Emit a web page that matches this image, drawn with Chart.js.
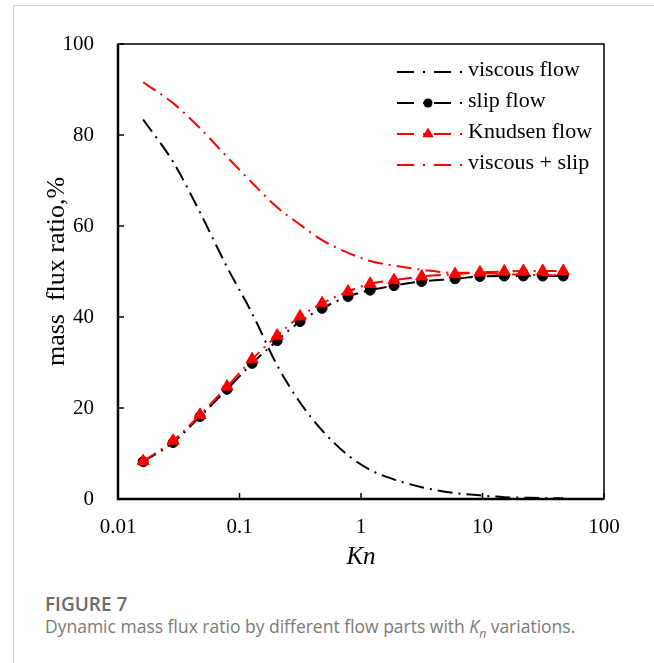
<!DOCTYPE html>
<html>
<head>
<meta charset="utf-8">
<script src="https://cdn.jsdelivr.net/npm/chart.js@4.4.0/dist/chart.umd.min.js"></script>
<style>
  html, body { margin: 0; padding: 0; background: #fff; }
  body { width: 654px; height: 663px; position: relative; overflow: hidden; }
  #card { position: absolute; left: 13px; top: 5px; width: 700px; height: 700px;
          border-left: 1px solid #d2d2d2; border-top: 1px solid #d2d2d2; }
  #wrap { position: absolute; left: 0; top: 0; width: 654px; height: 580px; }
  .fig { position: absolute; left: 45px; top: 593px; font-family: 'Open Sans'; font-weight: 600;
         font-size: 19px; line-height: 1.2; color: #6b6b6b; white-space: nowrap; }
  .cap { position: absolute; left: 45px; top: 616px; font-family: 'Open Sans'; font-size: 17.5px;
         line-height: 1.2; color: #7a7a7a; white-space: nowrap; }
</style>
</head>
<body>
<div id="card"></div>
<div id="wrap"><canvas id="fluxChart"></canvas></div>
<div class="fig">FIGURE 7</div>
<div class="cap">Dynamic mass flux ratio by different flow parts with <i>K<sub style="font-size:12px">n</sub></i> variations.</div>
<script>
// === DATA ===
const knValues    = [0.0161, 0.0284, 0.0473, 0.0789, 0.127, 0.204, 0.315, 0.478, 0.782, 1.19, 1.87, 3.16, 5.94, 9.53, 15.1, 21.7, 31.3, 46.2];
const viscousFlow = [83.4, 74.1, 63.0, 51.0, 40.8, 29.4, 21.2, 15.1, 9.6, 6.4, 4.3, 2.6, 1.3, 0.8, 0.4, 0.3, 0.2, 0.15];
const slipFlow    = [8.2, 12.4, 18.1, 24.1, 29.8, 34.8, 39.0, 41.9, 44.5, 45.9, 46.9, 47.8, 48.4, 48.9, 49.0, 49.0, 49.0, 49.0];
const knudsenFlow = [8.3, 12.8, 18.5, 24.7, 30.7, 35.9, 40.1, 43.0, 45.6, 47.3, 48.1, 48.9, 49.4, 49.8, 50.0, 50.1, 50.1, 50.1];
const viscousSlip = [91.6, 87.0, 81.5, 75.2, 69.5, 64.1, 60.3, 56.9, 54.1, 52.3, 51.3, 50.4, 49.7, 49.7, 49.4, 49.3, 49.2, 49.2];
const seriesNames = ['viscous flow', 'slip flow', 'Knudsen flow', 'viscous + slip'];
const xTicks = [0.01, 0.1, 1, 10, 100];
const yTicks = [0, 20, 40, 60, 80, 100];

const SERIF = "'Liberation Serif', 'Times New Roman', serif";
const DASH_DOT = [15, 6, 2, 6];

function toPoints(arr) {
    return arr.map((v, i) => ({ x: knValues[i], y: v }));
}

function series(label, values, color, marker, order) {
    return {
        label: label,
        data: toPoints(values),
        borderColor: color,
        backgroundColor: color,
        borderWidth: 2,
        borderDash: DASH_DOT,
        cubicInterpolationMode: 'monotone',
        pointStyle: marker || 'circle',
        pointRadius: marker === 'triangle' ? 7 : (marker ? 5 : 0),
        pointBackgroundColor: color,
        pointBorderColor: color,
        pointBorderWidth: 1,
        order: order
    };
}

// === frame, inner ticks and legend inside the plot ===
function drawMarker(ctx, style, cx, cy, r, color) {
    ctx.fillStyle = color;
    ctx.beginPath();
    if (style === 'triangle') {
        ctx.moveTo(cx, cy - r);
        ctx.lineTo(cx + r * 0.866, cy + r * 0.5);
        ctx.lineTo(cx - r * 0.866, cy + r * 0.5);
        ctx.closePath();
    } else {
        ctx.arc(cx, cy, r, 0, Math.PI * 2);
    }
    ctx.fill();
}

const framePlugin = {
    id: 'framePlugin',
    afterDatasetsDraw(chart) {
        const { ctx, chartArea: a, scales: { x, y } } = chart;
        ctx.save();
        ctx.strokeStyle = '#000';
        ctx.setLineDash([]);

        ctx.lineWidth = 1.5;
        yTicks.forEach(v => {
            const py = y.getPixelForValue(v);
            ctx.beginPath(); ctx.moveTo(a.left, py); ctx.lineTo(a.left + 6, py); ctx.stroke();
        });
        xTicks.forEach(v => {
            const px = x.getPixelForValue(v);
            ctx.beginPath(); ctx.moveTo(px, a.bottom); ctx.lineTo(px, a.bottom - 6); ctx.stroke();
        });

        ctx.lineWidth = 1.5;
        ctx.strokeRect(a.left, a.top, a.right - a.left, a.bottom - a.top);
        ctx.lineWidth = 2.5;
        ctx.beginPath();
        ctx.moveTo(a.left, a.top);
        ctx.lineTo(a.left, a.bottom);
        ctx.lineTo(a.right, a.bottom);
        ctx.stroke();

        // legend
        const x0 = a.right - 207, x1 = a.right - 141, tx = a.right - 136;
        ctx.font = '22px ' + SERIF;
        ctx.textBaseline = 'middle';
        ctx.textAlign = 'left';
        chart.data.datasets.forEach((ds, i) => {
            const ry = a.top + 28 + i * 31;
            ctx.strokeStyle = ds.borderColor;
            ctx.lineWidth = 2;
            ctx.setLineDash([17, 9, 2, 9]);
            ctx.beginPath(); ctx.moveTo(x0, ry); ctx.lineTo(x1, ry); ctx.stroke();
            ctx.setLineDash([]);
            if (ds.pointRadius > 0) {
                drawMarker(ctx, ds.pointStyle, (x0 + x1) / 2 - 2, ry, ds.pointStyle === 'triangle' ? 6.5 : 4.5, ds.borderColor);
            }
            ctx.fillStyle = '#000';
            ctx.fillText(ds.label, tx, ry - 2);
        });
        ctx.restore();
    }
};

const ctx = document.getElementById('fluxChart').getContext('2d');
new Chart(ctx, {
    type: 'line',
    data: {
        datasets: [
            series(seriesNames[0], viscousFlow, '#000000', null, 4),
            series(seriesNames[1], slipFlow, '#000000', 'circle', 3),
            series(seriesNames[2], knudsenFlow, '#ff0000', 'triangle', 2),
            series(seriesNames[3], viscousSlip, '#ff0000', null, 1)
        ]
    },
    options: {
        responsive: true,
        maintainAspectRatio: false,
        animation: false,
        layout: { padding: { top: 44, right: 50, left: 0, bottom: 0 } },
        plugins: { legend: { display: false }, tooltip: { enabled: false } },
        scales: {
            x: {
                type: 'logarithmic',
                min: 0.01,
                max: 100,
                afterBuildTicks: s => { s.ticks = xTicks.map(v => ({ value: v })); },
                afterFit: s => { s.height = 81; },
                grid: { display: false, drawTicks: false },
                border: { display: false },
                ticks: {
                    padding: 16,
                    color: '#000',
                    font: { family: SERIF, size: 21 },
                    callback: v => String(v)
                },
                title: {
                    display: true,
                    text: 'Kn',
                    color: '#000',
                    font: { family: SERIF, size: 25, style: 'italic' },
                    padding: { top: 0, bottom: 8 }
                }
            },
            y: {
                min: 0,
                max: 100,
                afterBuildTicks: s => { s.ticks = yTicks.map(v => ({ value: v })); },
                afterFit: s => { s.width = 118; },
                grid: { display: false, drawTicks: false },
                border: { display: false },
                ticks: {
                    padding: 24,
                    color: '#000',
                    font: { family: SERIF, size: 21 }
                },
                title: {
                    display: true,
                    text: 'mass  flux ratio,%',
                    color: '#000',
                    font: { family: SERIF, size: 26 },
                    padding: { top: 42, bottom: 0 }
                }
            }
        }
    },
    plugins: [framePlugin]
});
</script>
</body>
</html>
